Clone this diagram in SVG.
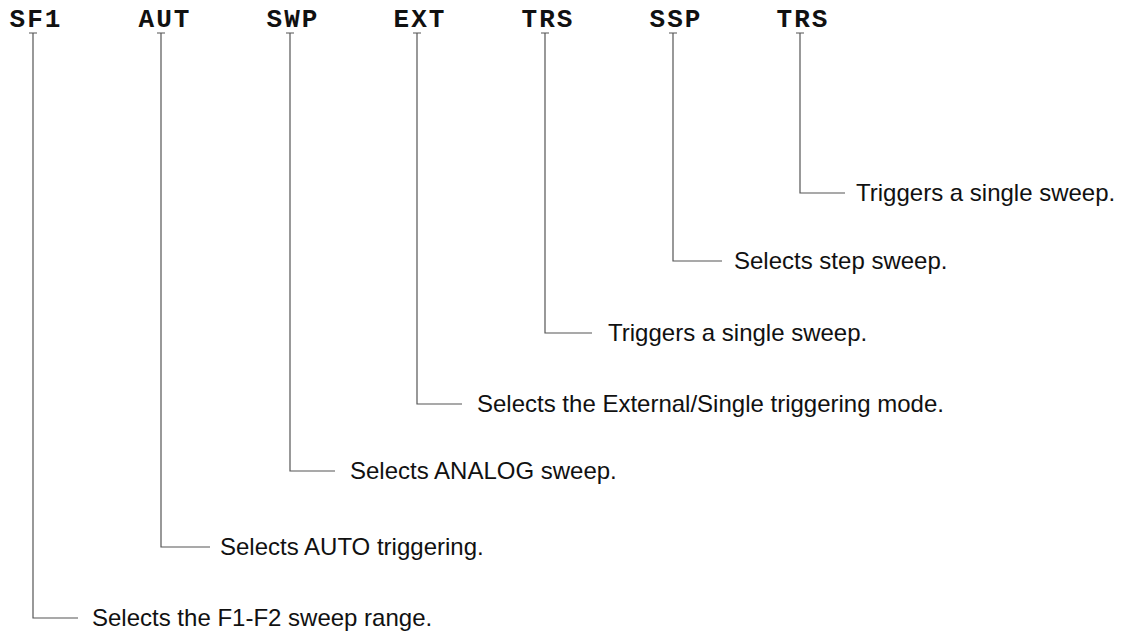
<svg xmlns="http://www.w3.org/2000/svg" width="1121" height="631" viewBox="0 0 1121 631">
<style>
.cmd{font-family:"Liberation Mono","Courier New",monospace;font-weight:bold;font-size:26px;letter-spacing:2px;fill:#111;text-anchor:middle}
.desc{font-family:"Liberation Sans",Arial,Helvetica,sans-serif;font-size:24px;fill:#111;dominant-baseline:central}
.ln{fill:none;stroke:#555;stroke-width:1.2}
</style>
<rect width="1121" height="631" fill="#fff"/>
<g id="n-sf1"><text class="cmd" x="36" y="27">SF1</text><text class="desc" x="92" y="617">Selects the F1-F2 sweep range.</text></g>
<g id="n-aut"><text class="cmd" x="165" y="27">AUT</text><text class="desc" x="220" y="546">Selects AUTO triggering.</text></g>
<g id="n-swp"><text class="cmd" x="293" y="27">SWP</text><text class="desc" x="350" y="470">Selects ANALOG sweep.</text></g>
<g id="n-ext"><text class="cmd" x="420" y="27">EXT</text><text class="desc" x="477" y="403">Selects the External/Single triggering mode.</text></g>
<g id="n-trs1"><text class="cmd" x="548" y="27">TRS</text><text class="desc" x="608" y="332">Triggers a single sweep.</text></g>
<g id="n-ssp"><text class="cmd" x="676" y="27">SSP</text><text class="desc" x="734" y="260">Selects step sweep.</text></g>
<g id="n-trs2"><text class="cmd" x="803" y="27">TRS</text><text class="desc" x="856" y="192">Triggers a single sweep.</text></g>
<g id="connectors">
<path class="ln" d="M29 33H37M33 33V618H78"/>
<path class="ln" d="M157 33H165M161 33V547H210"/>
<path class="ln" d="M286 33H294M290 33V471H335"/>
<path class="ln" d="M413 33H421M417 33V404H462"/>
<path class="ln" d="M541 33H549M545 33V333H592"/>
<path class="ln" d="M669 33H677M673 33V261H722"/>
<path class="ln" d="M796 33H804M800 33V193H845"/>
</g>
</svg>
